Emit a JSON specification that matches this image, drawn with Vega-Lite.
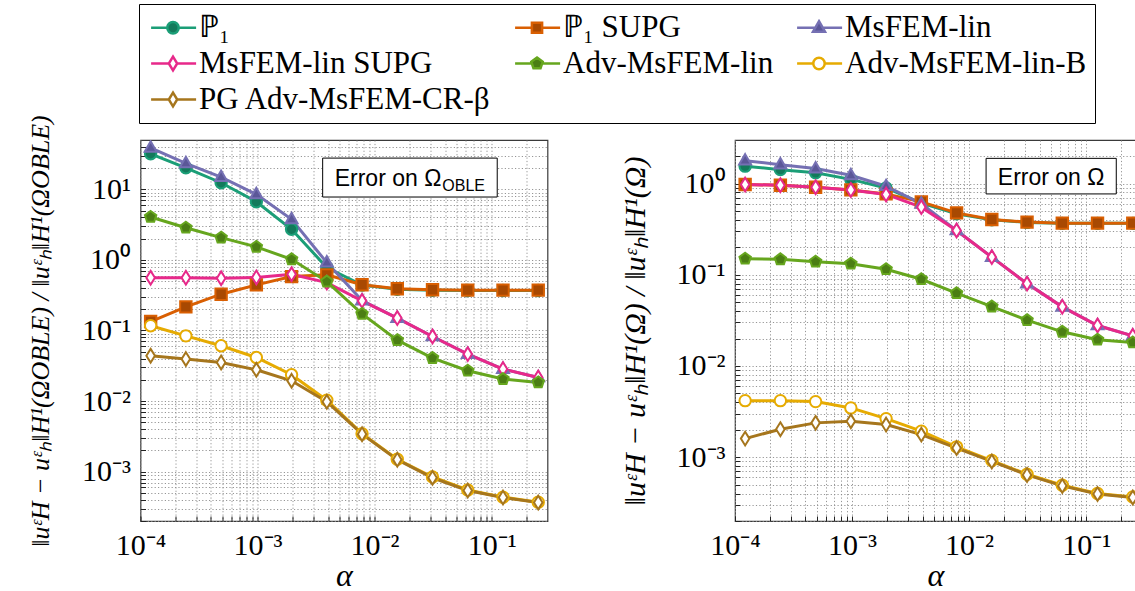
{
  "$schema": "https://vega.github.io/schema/vega-lite/v6.json",
  "padding": {"left": 26.5, "top": 3, "right": 0, "bottom": 0},
  "background": "white",
  "bounds": "flush",
  "spacing": 187.5,
  "config": {
    "view": {"stroke": "#3a3a3a", "strokeWidth": 1.2},
    "axis": {
      "grid": true, "gridDash": [1.2, 2.2], "gridColor": "#8a8a8a", "gridWidth": 0.9,
      "domain": false, "ticks": true, "tickSize": -5, "tickColor": "#222", "tickWidth": 1,
      "labelFont": "Liberation Serif", "labelFontSize": 30, "labelColor": "#000",
      "labelFlush": false, "labelOverlap": false, "labelBound": false,
      "titleFont": "Liberation Serif", "titleFontStyle": "italic", "titleFontWeight": "normal", "titleColor": "#000"
    },
    "axisX": {"labelPadding": 14, "titleFontSize": 32, "titlePadding": 0},
    "axisY": {"labelPadding": 15, "titleFontSize": 26, "titlePadding": 28},
    "legend": {
      "labelFont": "Liberation Serif", "labelFontSize": 31, "labelColor": "#000", "labelLimit": 0,
      "strokeColor": "#000", "fillColor": "#fff", "padding": 8, "rowPadding": 4, "columnPadding": 18,
      "labelOffset": 21, "symbolSize": 144, "symbolStrokeWidth": 2.5, "gridAlign": "each"
    }
  },
  "resolve": {"scale": {"stroke": "shared"}, "legend": {"stroke": "shared"}},
  "datasets": {
    "d": [
      {"panel": "OBLE", "method": "ℙ₁", "alpha": 0.0001220703125, "error": 31.9},
      {"panel": "OBLE", "method": "ℙ₁", "alpha": 0.000244140625, "error": 20.2},
      {"panel": "OBLE", "method": "ℙ₁", "alpha": 0.00048828125, "error": 12.4},
      {"panel": "OBLE", "method": "ℙ₁", "alpha": 0.0009765625, "error": 6.68},
      {"panel": "OBLE", "method": "ℙ₁", "alpha": 0.001953125, "error": 2.72},
      {"panel": "OBLE", "method": "ℙ₁", "alpha": 0.00390625, "error": 0.78},
      {"panel": "OBLE", "method": "ℙ₁", "alpha": 0.0078125, "error": 0.44},
      {"panel": "OBLE", "method": "ℙ₁", "alpha": 0.015625, "error": 0.385},
      {"panel": "OBLE", "method": "ℙ₁", "alpha": 0.03125, "error": 0.372},
      {"panel": "OBLE", "method": "ℙ₁", "alpha": 0.0625, "error": 0.368},
      {"panel": "OBLE", "method": "ℙ₁", "alpha": 0.125, "error": 0.368},
      {"panel": "OBLE", "method": "ℙ₁", "alpha": 0.25, "error": 0.368},
      {"panel": "OBLE", "method": "ℙ₁ SUPG", "alpha": 0.0001220703125, "error": 0.134},
      {"panel": "OBLE", "method": "ℙ₁ SUPG", "alpha": 0.000244140625, "error": 0.216},
      {"panel": "OBLE", "method": "ℙ₁ SUPG", "alpha": 0.00048828125, "error": 0.327},
      {"panel": "OBLE", "method": "ℙ₁ SUPG", "alpha": 0.0009765625, "error": 0.443},
      {"panel": "OBLE", "method": "ℙ₁ SUPG", "alpha": 0.001953125, "error": 0.58},
      {"panel": "OBLE", "method": "ℙ₁ SUPG", "alpha": 0.00390625, "error": 0.614},
      {"panel": "OBLE", "method": "ℙ₁ SUPG", "alpha": 0.0078125, "error": 0.445},
      {"panel": "OBLE", "method": "ℙ₁ SUPG", "alpha": 0.015625, "error": 0.39},
      {"panel": "OBLE", "method": "ℙ₁ SUPG", "alpha": 0.03125, "error": 0.377},
      {"panel": "OBLE", "method": "ℙ₁ SUPG", "alpha": 0.0625, "error": 0.373},
      {"panel": "OBLE", "method": "ℙ₁ SUPG", "alpha": 0.125, "error": 0.373},
      {"panel": "OBLE", "method": "ℙ₁ SUPG", "alpha": 0.25, "error": 0.373},
      {"panel": "OBLE", "method": "MsFEM-lin", "alpha": 0.0001220703125, "error": 38.7},
      {"panel": "OBLE", "method": "MsFEM-lin", "alpha": 0.000244140625, "error": 23.3},
      {"panel": "OBLE", "method": "MsFEM-lin", "alpha": 0.00048828125, "error": 14.9},
      {"panel": "OBLE", "method": "MsFEM-lin", "alpha": 0.0009765625, "error": 8.5},
      {"panel": "OBLE", "method": "MsFEM-lin", "alpha": 0.001953125, "error": 3.76},
      {"panel": "OBLE", "method": "MsFEM-lin", "alpha": 0.00390625, "error": 0.916},
      {"panel": "OBLE", "method": "MsFEM-lin", "alpha": 0.0078125, "error": 0.265},
      {"panel": "OBLE", "method": "MsFEM-lin", "alpha": 0.015625, "error": 0.15},
      {"panel": "OBLE", "method": "MsFEM-lin", "alpha": 0.03125, "error": 0.0823},
      {"panel": "OBLE", "method": "MsFEM-lin", "alpha": 0.0625, "error": 0.0463},
      {"panel": "OBLE", "method": "MsFEM-lin", "alpha": 0.125, "error": 0.0284},
      {"panel": "OBLE", "method": "MsFEM-lin", "alpha": 0.25, "error": 0.0216},
      {"panel": "OBLE", "method": "MsFEM-lin SUPG", "alpha": 0.0001220703125, "error": 0.56},
      {"panel": "OBLE", "method": "MsFEM-lin SUPG", "alpha": 0.000244140625, "error": 0.56},
      {"panel": "OBLE", "method": "MsFEM-lin SUPG", "alpha": 0.00048828125, "error": 0.55},
      {"panel": "OBLE", "method": "MsFEM-lin SUPG", "alpha": 0.0009765625, "error": 0.565},
      {"panel": "OBLE", "method": "MsFEM-lin SUPG", "alpha": 0.001953125, "error": 0.627},
      {"panel": "OBLE", "method": "MsFEM-lin SUPG", "alpha": 0.00390625, "error": 0.477},
      {"panel": "OBLE", "method": "MsFEM-lin SUPG", "alpha": 0.0078125, "error": 0.263},
      {"panel": "OBLE", "method": "MsFEM-lin SUPG", "alpha": 0.015625, "error": 0.15},
      {"panel": "OBLE", "method": "MsFEM-lin SUPG", "alpha": 0.03125, "error": 0.0823},
      {"panel": "OBLE", "method": "MsFEM-lin SUPG", "alpha": 0.0625, "error": 0.0463},
      {"panel": "OBLE", "method": "MsFEM-lin SUPG", "alpha": 0.125, "error": 0.0284},
      {"panel": "OBLE", "method": "MsFEM-lin SUPG", "alpha": 0.25, "error": 0.0216},
      {"panel": "OBLE", "method": "Adv-MsFEM-lin", "alpha": 0.0001220703125, "error": 4.06},
      {"panel": "OBLE", "method": "Adv-MsFEM-lin", "alpha": 0.000244140625, "error": 2.86},
      {"panel": "OBLE", "method": "Adv-MsFEM-lin", "alpha": 0.00048828125, "error": 2.07},
      {"panel": "OBLE", "method": "Adv-MsFEM-lin", "alpha": 0.0009765625, "error": 1.53},
      {"panel": "OBLE", "method": "Adv-MsFEM-lin", "alpha": 0.001953125, "error": 1.02},
      {"panel": "OBLE", "method": "Adv-MsFEM-lin", "alpha": 0.00390625, "error": 0.493},
      {"panel": "OBLE", "method": "Adv-MsFEM-lin", "alpha": 0.0078125, "error": 0.172},
      {"panel": "OBLE", "method": "Adv-MsFEM-lin", "alpha": 0.015625, "error": 0.0731},
      {"panel": "OBLE", "method": "Adv-MsFEM-lin", "alpha": 0.03125, "error": 0.0407},
      {"panel": "OBLE", "method": "Adv-MsFEM-lin", "alpha": 0.0625, "error": 0.0269},
      {"panel": "OBLE", "method": "Adv-MsFEM-lin", "alpha": 0.125, "error": 0.0205},
      {"panel": "OBLE", "method": "Adv-MsFEM-lin", "alpha": 0.25, "error": 0.0184},
      {"panel": "OBLE", "method": "Adv-MsFEM-lin-B", "alpha": 0.0001220703125, "error": 0.117},
      {"panel": "OBLE", "method": "Adv-MsFEM-lin-B", "alpha": 0.000244140625, "error": 0.084},
      {"panel": "OBLE", "method": "Adv-MsFEM-lin-B", "alpha": 0.00048828125, "error": 0.0608},
      {"panel": "OBLE", "method": "Adv-MsFEM-lin-B", "alpha": 0.0009765625, "error": 0.0415},
      {"panel": "OBLE", "method": "Adv-MsFEM-lin-B", "alpha": 0.001953125, "error": 0.0236},
      {"panel": "OBLE", "method": "Adv-MsFEM-lin-B", "alpha": 0.00390625, "error": 0.0103},
      {"panel": "OBLE", "method": "Adv-MsFEM-lin-B", "alpha": 0.0078125, "error": 0.00345},
      {"panel": "OBLE", "method": "Adv-MsFEM-lin-B", "alpha": 0.015625, "error": 0.0015},
      {"panel": "OBLE", "method": "Adv-MsFEM-lin-B", "alpha": 0.03125, "error": 0.00084},
      {"panel": "OBLE", "method": "Adv-MsFEM-lin-B", "alpha": 0.0625, "error": 0.00055},
      {"panel": "OBLE", "method": "Adv-MsFEM-lin-B", "alpha": 0.125, "error": 0.000435},
      {"panel": "OBLE", "method": "Adv-MsFEM-lin-B", "alpha": 0.25, "error": 0.00037},
      {"panel": "OBLE", "method": "PG Adv-MsFEM-CR-β", "alpha": 0.0001220703125, "error": 0.0439},
      {"panel": "OBLE", "method": "PG Adv-MsFEM-CR-β", "alpha": 0.000244140625, "error": 0.0394},
      {"panel": "OBLE", "method": "PG Adv-MsFEM-CR-β", "alpha": 0.00048828125, "error": 0.0353},
      {"panel": "OBLE", "method": "PG Adv-MsFEM-CR-β", "alpha": 0.0009765625, "error": 0.0278},
      {"panel": "OBLE", "method": "PG Adv-MsFEM-CR-β", "alpha": 0.001953125, "error": 0.0194},
      {"panel": "OBLE", "method": "PG Adv-MsFEM-CR-β", "alpha": 0.00390625, "error": 0.0098},
      {"panel": "OBLE", "method": "PG Adv-MsFEM-CR-β", "alpha": 0.0078125, "error": 0.0034},
      {"panel": "OBLE", "method": "PG Adv-MsFEM-CR-β", "alpha": 0.015625, "error": 0.00148},
      {"panel": "OBLE", "method": "PG Adv-MsFEM-CR-β", "alpha": 0.03125, "error": 0.00082},
      {"panel": "OBLE", "method": "PG Adv-MsFEM-CR-β", "alpha": 0.0625, "error": 0.00054},
      {"panel": "OBLE", "method": "PG Adv-MsFEM-CR-β", "alpha": 0.125, "error": 0.00043},
      {"panel": "OBLE", "method": "PG Adv-MsFEM-CR-β", "alpha": 0.25, "error": 0.000365},
      {"panel": "Omega", "method": "ℙ₁", "alpha": 0.0001220703125, "error": 1.55},
      {"panel": "Omega", "method": "ℙ₁", "alpha": 0.000244140625, "error": 1.42},
      {"panel": "Omega", "method": "ℙ₁", "alpha": 0.00048828125, "error": 1.31},
      {"panel": "Omega", "method": "ℙ₁", "alpha": 0.0009765625, "error": 1.11},
      {"panel": "Omega", "method": "ℙ₁", "alpha": 0.001953125, "error": 0.895},
      {"panel": "Omega", "method": "ℙ₁", "alpha": 0.00390625, "error": 0.61},
      {"panel": "Omega", "method": "ℙ₁", "alpha": 0.0078125, "error": 0.465},
      {"panel": "Omega", "method": "ℙ₁", "alpha": 0.015625, "error": 0.4},
      {"panel": "Omega", "method": "ℙ₁", "alpha": 0.03125, "error": 0.375},
      {"panel": "Omega", "method": "ℙ₁", "alpha": 0.0625, "error": 0.366},
      {"panel": "Omega", "method": "ℙ₁", "alpha": 0.125, "error": 0.366},
      {"panel": "Omega", "method": "ℙ₁", "alpha": 0.25, "error": 0.366},
      {"panel": "Omega", "method": "ℙ₁ SUPG", "alpha": 0.0001220703125, "error": 0.975},
      {"panel": "Omega", "method": "ℙ₁ SUPG", "alpha": 0.000244140625, "error": 0.958},
      {"panel": "Omega", "method": "ℙ₁ SUPG", "alpha": 0.00048828125, "error": 0.911},
      {"panel": "Omega", "method": "ℙ₁ SUPG", "alpha": 0.0009765625, "error": 0.851},
      {"panel": "Omega", "method": "ℙ₁ SUPG", "alpha": 0.001953125, "error": 0.77},
      {"panel": "Omega", "method": "ℙ₁ SUPG", "alpha": 0.00390625, "error": 0.629},
      {"panel": "Omega", "method": "ℙ₁ SUPG", "alpha": 0.0078125, "error": 0.477},
      {"panel": "Omega", "method": "ℙ₁ SUPG", "alpha": 0.015625, "error": 0.404},
      {"panel": "Omega", "method": "ℙ₁ SUPG", "alpha": 0.03125, "error": 0.378},
      {"panel": "Omega", "method": "ℙ₁ SUPG", "alpha": 0.0625, "error": 0.368},
      {"panel": "Omega", "method": "ℙ₁ SUPG", "alpha": 0.125, "error": 0.368},
      {"panel": "Omega", "method": "ℙ₁ SUPG", "alpha": 0.25, "error": 0.368},
      {"panel": "Omega", "method": "MsFEM-lin", "alpha": 0.0001220703125, "error": 1.78},
      {"panel": "Omega", "method": "MsFEM-lin", "alpha": 0.000244140625, "error": 1.61},
      {"panel": "Omega", "method": "MsFEM-lin", "alpha": 0.00048828125, "error": 1.46},
      {"panel": "Omega", "method": "MsFEM-lin", "alpha": 0.0009765625, "error": 1.23},
      {"panel": "Omega", "method": "MsFEM-lin", "alpha": 0.001953125, "error": 0.934},
      {"panel": "Omega", "method": "MsFEM-lin", "alpha": 0.00390625, "error": 0.6},
      {"panel": "Omega", "method": "MsFEM-lin", "alpha": 0.0078125, "error": 0.306},
      {"panel": "Omega", "method": "MsFEM-lin", "alpha": 0.015625, "error": 0.156},
      {"panel": "Omega", "method": "MsFEM-lin", "alpha": 0.03125, "error": 0.08},
      {"panel": "Omega", "method": "MsFEM-lin", "alpha": 0.0625, "error": 0.0445},
      {"panel": "Omega", "method": "MsFEM-lin", "alpha": 0.125, "error": 0.0278},
      {"panel": "Omega", "method": "MsFEM-lin", "alpha": 0.25, "error": 0.0214},
      {"panel": "Omega", "method": "MsFEM-lin SUPG", "alpha": 0.0001220703125, "error": 0.975},
      {"panel": "Omega", "method": "MsFEM-lin SUPG", "alpha": 0.000244140625, "error": 0.958},
      {"panel": "Omega", "method": "MsFEM-lin SUPG", "alpha": 0.00048828125, "error": 0.911},
      {"panel": "Omega", "method": "MsFEM-lin SUPG", "alpha": 0.0009765625, "error": 0.851},
      {"panel": "Omega", "method": "MsFEM-lin SUPG", "alpha": 0.001953125, "error": 0.759},
      {"panel": "Omega", "method": "MsFEM-lin SUPG", "alpha": 0.00390625, "error": 0.551},
      {"panel": "Omega", "method": "MsFEM-lin SUPG", "alpha": 0.0078125, "error": 0.306},
      {"panel": "Omega", "method": "MsFEM-lin SUPG", "alpha": 0.015625, "error": 0.156},
      {"panel": "Omega", "method": "MsFEM-lin SUPG", "alpha": 0.03125, "error": 0.08},
      {"panel": "Omega", "method": "MsFEM-lin SUPG", "alpha": 0.0625, "error": 0.0445},
      {"panel": "Omega", "method": "MsFEM-lin SUPG", "alpha": 0.125, "error": 0.0278},
      {"panel": "Omega", "method": "MsFEM-lin SUPG", "alpha": 0.25, "error": 0.0214},
      {"panel": "Omega", "method": "Adv-MsFEM-lin", "alpha": 0.0001220703125, "error": 0.15},
      {"panel": "Omega", "method": "Adv-MsFEM-lin", "alpha": 0.000244140625, "error": 0.1476},
      {"panel": "Omega", "method": "Adv-MsFEM-lin", "alpha": 0.00048828125, "error": 0.139},
      {"panel": "Omega", "method": "Adv-MsFEM-lin", "alpha": 0.0009765625, "error": 0.132},
      {"panel": "Omega", "method": "Adv-MsFEM-lin", "alpha": 0.001953125, "error": 0.115},
      {"panel": "Omega", "method": "Adv-MsFEM-lin", "alpha": 0.00390625, "error": 0.0893},
      {"panel": "Omega", "method": "Adv-MsFEM-lin", "alpha": 0.0078125, "error": 0.0628},
      {"panel": "Omega", "method": "Adv-MsFEM-lin", "alpha": 0.015625, "error": 0.0448},
      {"panel": "Omega", "method": "Adv-MsFEM-lin", "alpha": 0.03125, "error": 0.0318},
      {"panel": "Omega", "method": "Adv-MsFEM-lin", "alpha": 0.0625, "error": 0.0237},
      {"panel": "Omega", "method": "Adv-MsFEM-lin", "alpha": 0.125, "error": 0.0194},
      {"panel": "Omega", "method": "Adv-MsFEM-lin", "alpha": 0.25, "error": 0.0181},
      {"panel": "Omega", "method": "Adv-MsFEM-lin-B", "alpha": 0.0001220703125, "error": 0.00417},
      {"panel": "Omega", "method": "Adv-MsFEM-lin-B", "alpha": 0.000244140625, "error": 0.00417},
      {"panel": "Omega", "method": "Adv-MsFEM-lin-B", "alpha": 0.00048828125, "error": 0.00407},
      {"panel": "Omega", "method": "Adv-MsFEM-lin-B", "alpha": 0.0009765625, "error": 0.00347},
      {"panel": "Omega", "method": "Adv-MsFEM-lin-B", "alpha": 0.001953125, "error": 0.00265},
      {"panel": "Omega", "method": "Adv-MsFEM-lin-B", "alpha": 0.00390625, "error": 0.00193},
      {"panel": "Omega", "method": "Adv-MsFEM-lin-B", "alpha": 0.0078125, "error": 0.0013},
      {"panel": "Omega", "method": "Adv-MsFEM-lin-B", "alpha": 0.015625, "error": 0.00092},
      {"panel": "Omega", "method": "Adv-MsFEM-lin-B", "alpha": 0.03125, "error": 0.00065},
      {"panel": "Omega", "method": "Adv-MsFEM-lin-B", "alpha": 0.0625, "error": 0.000493},
      {"panel": "Omega", "method": "Adv-MsFEM-lin-B", "alpha": 0.125, "error": 0.0004},
      {"panel": "Omega", "method": "Adv-MsFEM-lin-B", "alpha": 0.25, "error": 0.000367},
      {"panel": "Omega", "method": "PG Adv-MsFEM-CR-β", "alpha": 0.0001220703125, "error": 0.0016},
      {"panel": "Omega", "method": "PG Adv-MsFEM-CR-β", "alpha": 0.000244140625, "error": 0.00203},
      {"panel": "Omega", "method": "PG Adv-MsFEM-CR-β", "alpha": 0.00048828125, "error": 0.00238},
      {"panel": "Omega", "method": "PG Adv-MsFEM-CR-β", "alpha": 0.0009765625, "error": 0.00248},
      {"panel": "Omega", "method": "PG Adv-MsFEM-CR-β", "alpha": 0.001953125, "error": 0.00228},
      {"panel": "Omega", "method": "PG Adv-MsFEM-CR-β", "alpha": 0.00390625, "error": 0.00177},
      {"panel": "Omega", "method": "PG Adv-MsFEM-CR-β", "alpha": 0.0078125, "error": 0.00126},
      {"panel": "Omega", "method": "PG Adv-MsFEM-CR-β", "alpha": 0.015625, "error": 0.0009},
      {"panel": "Omega", "method": "PG Adv-MsFEM-CR-β", "alpha": 0.03125, "error": 0.00064},
      {"panel": "Omega", "method": "PG Adv-MsFEM-CR-β", "alpha": 0.0625, "error": 0.000485},
      {"panel": "Omega", "method": "PG Adv-MsFEM-CR-β", "alpha": 0.125, "error": 0.000395},
      {"panel": "Omega", "method": "PG Adv-MsFEM-CR-β", "alpha": 0.25, "error": 0.000362}
    ]
  },
  "hconcat": [
    {
      "width": 407,
      "height": 381,
      "layer": [
        {
          "data": {"name": "d"},
          "transform": [{"filter": "datum.panel == 'OBLE'"}],
          "mark": {"type": "line", "strokeWidth": 3, "clip": true},
          "encoding": {
            "x": {"field": "alpha", "type": "quantitative", "title": "α",
              "scale": {"type": "log", "domain": [0.0001, 0.3], "nice": false},
              "axis": {"values": [0.0001,0.0002,0.0003,0.0004,0.0005,0.0006,0.0007,0.0008,0.0009,0.001,0.002,0.003,0.004,0.005,0.006,0.007,0.008,0.009,0.01,0.02,0.03,0.04,0.05,0.06,0.07,0.08,0.09,0.1,0.2],
                "labelExpr": "datum.value == 0.0001 ? '10⁻⁴' : datum.value == 0.001 ? '10⁻³' : datum.value == 0.01 ? '10⁻²' : datum.value == 0.1 ? '10⁻¹' : ''"}},
            "y": {"field": "error", "type": "quantitative",
              "title": "‖uᵋH − uᵋₕ‖H¹(ΩOBLE) / ‖uᵋₕ‖H¹(ΩOBLE)",
              "scale": {"type": "log", "domain": [0.0002, 50], "nice": false},
              "axis": {"values": [0.0002,0.0003,0.0004,0.0005,0.0006,0.0007,0.0008,0.0009,0.001,0.002,0.003,0.004,0.005,0.006,0.007,0.008,0.009,0.01,0.02,0.03,0.04,0.05,0.06,0.07,0.08,0.09,0.1,0.2,0.3,0.4,0.5,0.6,0.7,0.8,0.9,1,2,3,4,5,6,7,8,9,10,20,30,40],
                "labelExpr": "datum.value == 0.001 ? '10⁻³' : datum.value == 0.01 ? '10⁻²' : datum.value == 0.1 ? '10⁻¹' : datum.value == 1 ? '10⁰' : datum.value == 10 ? '10¹' : ''"}},
            "stroke": {"field": "method", "type": "nominal",
              "scale": {"domain": ["ℙ₁","ℙ₁ SUPG","MsFEM-lin","MsFEM-lin SUPG","Adv-MsFEM-lin","Adv-MsFEM-lin-B","PG Adv-MsFEM-CR-β"],
                "range": ["#1b9e77","#d95f02","#7570b3","#e7298a","#66a61e","#e6ab02","#a6761d"]},
              "legend": {"orient": "none", "legendX": -1.5, "legendY": -136, "columns": 3, "direction": "horizontal", "title": null,
                "encode": {"symbols": {"update": {
                  "shape": {"signal": "datum.value == 'ℙ₁' || datum.value == 'Adv-MsFEM-lin-B' ? 'M-1.9,0H0.8M2.7,0H5.6M2.7,0A0.95,0.95 0 1,1 0.8,0A0.95,0.95 0 1,1 2.7,0Z' : datum.value == 'ℙ₁ SUPG' ? 'M-1.9,0H0.9M2.6,0H5.6M0.9,-0.85H2.6V0.85H0.9Z' : datum.value == 'MsFEM-lin' ? 'M-1.9,0H1.12M2.38,0H5.6M1.75,-1.1L2.75,0.65L0.75,0.65Z' : datum.value == 'Adv-MsFEM-lin' ? 'M-1.9,0H0.9M2.6,0H5.6M1.75,-1L2.7,-0.3L2.34,0.8L1.16,0.8L0.8,-0.3Z' : 'M-1.9,0H1.05M2.45,0H5.6M1.75,-1.15L2.45,0L1.75,1.15L1.05,0Z'"},
                  "fill": {"signal": "datum.value == 'ℙ₁' ? '#137a5b' : datum.value == 'ℙ₁ SUPG' ? '#a84902' : datum.value == 'MsFEM-lin' ? '#5b5798' : datum.value == 'Adv-MsFEM-lin' ? '#4b7e14' : '#ffffff'"},
                  "strokeWidth": {"value": 2.5},
                  "opacity": {"value": 1}
                }}}}}
          }
        },
        {
          "data": {"name": "d"},
          "transform": [{"filter": "datum.panel == 'OBLE'"}],
          "mark": {"type": "point", "filled": true, "size": 130, "strokeWidth": 2, "opacity": 1, "clip": true},
          "encoding": {
            "x": {"field": "alpha", "type": "quantitative"},
            "y": {"field": "error", "type": "quantitative"},
            "stroke": {"field": "method", "type": "nominal",
              "scale": {"domain": ["ℙ₁","ℙ₁ SUPG","MsFEM-lin","MsFEM-lin SUPG","Adv-MsFEM-lin","Adv-MsFEM-lin-B","PG Adv-MsFEM-CR-β"],
                "range": ["#1b9e77","#d95f02","#7570b3","#e7298a","#66a61e","#e6ab02","#a6761d"]},
              "legend": {"orient": "none", "legendX": -1.5, "legendY": -136, "columns": 3, "direction": "horizontal", "title": null,
                "encode": {"symbols": {"update": {
                  "shape": {"signal": "datum.value == 'ℙ₁' || datum.value == 'Adv-MsFEM-lin-B' ? 'M-1.9,0H0.8M2.7,0H5.6M2.7,0A0.95,0.95 0 1,1 0.8,0A0.95,0.95 0 1,1 2.7,0Z' : datum.value == 'ℙ₁ SUPG' ? 'M-1.9,0H0.9M2.6,0H5.6M0.9,-0.85H2.6V0.85H0.9Z' : datum.value == 'MsFEM-lin' ? 'M-1.9,0H1.12M2.38,0H5.6M1.75,-1.1L2.75,0.65L0.75,0.65Z' : datum.value == 'Adv-MsFEM-lin' ? 'M-1.9,0H0.9M2.6,0H5.6M1.75,-1L2.7,-0.3L2.34,0.8L1.16,0.8L0.8,-0.3Z' : 'M-1.9,0H1.05M2.45,0H5.6M1.75,-1.15L2.45,0L1.75,1.15L1.05,0Z'"},
                  "fill": {"signal": "datum.value == 'ℙ₁' ? '#137a5b' : datum.value == 'ℙ₁ SUPG' ? '#a84902' : datum.value == 'MsFEM-lin' ? '#5b5798' : datum.value == 'Adv-MsFEM-lin' ? '#4b7e14' : '#ffffff'"},
                  "strokeWidth": {"value": 2.5},
                  "opacity": {"value": 1}
                }}}}},
            "fill": {"condition": [
                {"test": "datum.method == 'ℙ₁'", "value": "#137a5b"},
                {"test": "datum.method == 'ℙ₁ SUPG'", "value": "#a84902"},
                {"test": "datum.method == 'MsFEM-lin'", "value": "#5b5798"},
                {"test": "datum.method == 'Adv-MsFEM-lin'", "value": "#4b7e14"}],
              "value": "#ffffff"},
            "shape": {"condition": [
                {"test": "datum.method == 'ℙ₁ SUPG'", "value": "square"},
                {"test": "datum.method == 'MsFEM-lin'", "value": "M0,-1.15L1.05,0.68L-1.05,0.68Z"},
                {"test": "datum.method == 'MsFEM-lin SUPG' || datum.method == 'PG Adv-MsFEM-CR-β'", "value": "M0,-1.2L0.75,0L0,1.2L-0.75,0Z"},
                {"test": "datum.method == 'Adv-MsFEM-lin'", "value": "M0,-1.05L1,-0.32L0.62,0.85L-0.62,0.85L-1,-0.32Z"}],
              "value": "circle"}
          }
        },
        {
          "data": {"values": [{}]},
          "mark": {"type": "rect", "fill": "#fff", "stroke": "#000", "strokeWidth": 1},
          "encoding": {
            "x": {"datum": 0.0036, "type": "quantitative"}, "x2": {"datum": 0.1116},
            "y": {"datum": 27.7, "type": "quantitative"}, "y2": {"datum": 7.78}
          }
        },
        {
          "data": {"values": [{}]},
          "mark": {"type": "text", "font": "Liberation Sans", "fontSize": 23, "align": "right", "baseline": "alphabetic", "color": "#000"},
          "encoding": {
            "x": {"datum": 0.03718, "type": "quantitative"},
            "y": {"datum": 11.13, "type": "quantitative"},
            "text": {"value": "Error on Ω"}
          }
        },
        {
          "data": {"values": [{}]},
          "mark": {"type": "text", "font": "Liberation Sans", "fontSize": 16, "align": "left", "baseline": "alphabetic", "dx": 1, "color": "#000"},
          "encoding": {
            "x": {"datum": 0.03718, "type": "quantitative"},
            "y": {"datum": 9.46, "type": "quantitative"},
            "text": {"value": "OBLE"}
          }
        }
      ]
    },
    {
      "width": 401,
      "height": 381,
      "layer": [
        {
          "data": {"name": "d"},
          "transform": [{"filter": "datum.panel == 'Omega'"}],
          "mark": {"type": "line", "strokeWidth": 3, "clip": true},
          "encoding": {
            "x": {"field": "alpha", "type": "quantitative", "title": "α",
              "scale": {"type": "log", "domain": [0.0001, 0.2664], "nice": false},
              "axis": {"values": [0.0001,0.0002,0.0003,0.0004,0.0005,0.0006,0.0007,0.0008,0.0009,0.001,0.002,0.003,0.004,0.005,0.006,0.007,0.008,0.009,0.01,0.02,0.03,0.04,0.05,0.06,0.07,0.08,0.09,0.1,0.2],
                "labelExpr": "datum.value == 0.0001 ? '10⁻⁴' : datum.value == 0.001 ? '10⁻³' : datum.value == 0.01 ? '10⁻²' : datum.value == 0.1 ? '10⁻¹' : ''"}},
            "y": {"field": "error", "type": "quantitative",
              "title": "‖uᵋH − uᵋₕ‖H¹(Ω) / ‖uᵋₕ‖H¹(Ω)",
              "scale": {"type": "log", "domain": [0.0002, 3], "nice": false},
              "axis": {"titleFontSize": 30, "titlePadding": 26,
                "values": [0.0002,0.0003,0.0004,0.0005,0.0006,0.0007,0.0008,0.0009,0.001,0.002,0.003,0.004,0.005,0.006,0.007,0.008,0.009,0.01,0.02,0.03,0.04,0.05,0.06,0.07,0.08,0.09,0.1,0.2,0.3,0.4,0.5,0.6,0.7,0.8,0.9,1,2],
                "labelExpr": "datum.value == 0.001 ? '10⁻³' : datum.value == 0.01 ? '10⁻²' : datum.value == 0.1 ? '10⁻¹' : datum.value == 1 ? '10⁰' : ''"}},
            "stroke": {"field": "method", "type": "nominal",
              "scale": {"domain": ["ℙ₁","ℙ₁ SUPG","MsFEM-lin","MsFEM-lin SUPG","Adv-MsFEM-lin","Adv-MsFEM-lin-B","PG Adv-MsFEM-CR-β"],
                "range": ["#1b9e77","#d95f02","#7570b3","#e7298a","#66a61e","#e6ab02","#a6761d"]},
              "legend": {"orient": "none", "legendX": -1.5, "legendY": -136, "columns": 3, "direction": "horizontal", "title": null,
                "encode": {"symbols": {"update": {
                  "shape": {"signal": "datum.value == 'ℙ₁' || datum.value == 'Adv-MsFEM-lin-B' ? 'M-1.9,0H0.8M2.7,0H5.6M2.7,0A0.95,0.95 0 1,1 0.8,0A0.95,0.95 0 1,1 2.7,0Z' : datum.value == 'ℙ₁ SUPG' ? 'M-1.9,0H0.9M2.6,0H5.6M0.9,-0.85H2.6V0.85H0.9Z' : datum.value == 'MsFEM-lin' ? 'M-1.9,0H1.12M2.38,0H5.6M1.75,-1.1L2.75,0.65L0.75,0.65Z' : datum.value == 'Adv-MsFEM-lin' ? 'M-1.9,0H0.9M2.6,0H5.6M1.75,-1L2.7,-0.3L2.34,0.8L1.16,0.8L0.8,-0.3Z' : 'M-1.9,0H1.05M2.45,0H5.6M1.75,-1.15L2.45,0L1.75,1.15L1.05,0Z'"},
                  "fill": {"signal": "datum.value == 'ℙ₁' ? '#137a5b' : datum.value == 'ℙ₁ SUPG' ? '#a84902' : datum.value == 'MsFEM-lin' ? '#5b5798' : datum.value == 'Adv-MsFEM-lin' ? '#4b7e14' : '#ffffff'"},
                  "strokeWidth": {"value": 2.5},
                  "opacity": {"value": 1}
                }}}}}
          }
        },
        {
          "data": {"name": "d"},
          "transform": [{"filter": "datum.panel == 'Omega'"}],
          "mark": {"type": "point", "filled": true, "size": 130, "strokeWidth": 2, "opacity": 1, "clip": true},
          "encoding": {
            "x": {"field": "alpha", "type": "quantitative"},
            "y": {"field": "error", "type": "quantitative"},
            "stroke": {"field": "method", "type": "nominal",
              "scale": {"domain": ["ℙ₁","ℙ₁ SUPG","MsFEM-lin","MsFEM-lin SUPG","Adv-MsFEM-lin","Adv-MsFEM-lin-B","PG Adv-MsFEM-CR-β"],
                "range": ["#1b9e77","#d95f02","#7570b3","#e7298a","#66a61e","#e6ab02","#a6761d"]},
              "legend": {"orient": "none", "legendX": -1.5, "legendY": -136, "columns": 3, "direction": "horizontal", "title": null,
                "encode": {"symbols": {"update": {
                  "shape": {"signal": "datum.value == 'ℙ₁' || datum.value == 'Adv-MsFEM-lin-B' ? 'M-1.9,0H0.8M2.7,0H5.6M2.7,0A0.95,0.95 0 1,1 0.8,0A0.95,0.95 0 1,1 2.7,0Z' : datum.value == 'ℙ₁ SUPG' ? 'M-1.9,0H0.9M2.6,0H5.6M0.9,-0.85H2.6V0.85H0.9Z' : datum.value == 'MsFEM-lin' ? 'M-1.9,0H1.12M2.38,0H5.6M1.75,-1.1L2.75,0.65L0.75,0.65Z' : datum.value == 'Adv-MsFEM-lin' ? 'M-1.9,0H0.9M2.6,0H5.6M1.75,-1L2.7,-0.3L2.34,0.8L1.16,0.8L0.8,-0.3Z' : 'M-1.9,0H1.05M2.45,0H5.6M1.75,-1.15L2.45,0L1.75,1.15L1.05,0Z'"},
                  "fill": {"signal": "datum.value == 'ℙ₁' ? '#137a5b' : datum.value == 'ℙ₁ SUPG' ? '#a84902' : datum.value == 'MsFEM-lin' ? '#5b5798' : datum.value == 'Adv-MsFEM-lin' ? '#4b7e14' : '#ffffff'"},
                  "strokeWidth": {"value": 2.5},
                  "opacity": {"value": 1}
                }}}}},
            "fill": {"condition": [
                {"test": "datum.method == 'ℙ₁'", "value": "#137a5b"},
                {"test": "datum.method == 'ℙ₁ SUPG'", "value": "#a84902"},
                {"test": "datum.method == 'MsFEM-lin'", "value": "#5b5798"},
                {"test": "datum.method == 'Adv-MsFEM-lin'", "value": "#4b7e14"}],
              "value": "#ffffff"},
            "shape": {"condition": [
                {"test": "datum.method == 'ℙ₁ SUPG'", "value": "square"},
                {"test": "datum.method == 'MsFEM-lin'", "value": "M0,-1.15L1.05,0.68L-1.05,0.68Z"},
                {"test": "datum.method == 'MsFEM-lin SUPG' || datum.method == 'PG Adv-MsFEM-CR-β'", "value": "M0,-1.2L0.75,0L0,1.2L-0.75,0Z"},
                {"test": "datum.method == 'Adv-MsFEM-lin'", "value": "M0,-1.05L1,-0.32L0.62,0.85L-0.62,0.85L-1,-0.32Z"}],
              "value": "circle"}
          }
        },
        {
          "data": {"values": [{}]},
          "mark": {"type": "rect", "fill": "#fff", "stroke": "#000", "strokeWidth": 1},
          "encoding": {
            "x": {"datum": 0.01396, "type": "quantitative"}, "x2": {"datum": 0.1807},
            "y": {"datum": 1.888, "type": "quantitative"}, "y2": {"datum": 0.769}
          }
        },
        {
          "data": {"values": [{}]},
          "mark": {"type": "text", "font": "Liberation Sans", "fontSize": 23, "align": "center", "baseline": "alphabetic", "color": "#000"},
          "encoding": {
            "x": {"datum": 0.0502, "type": "quantitative"},
            "y": {"datum": 0.973, "type": "quantitative"},
            "text": {"value": "Error on Ω"}
          }
        }
      ]
    }
  ]
}
